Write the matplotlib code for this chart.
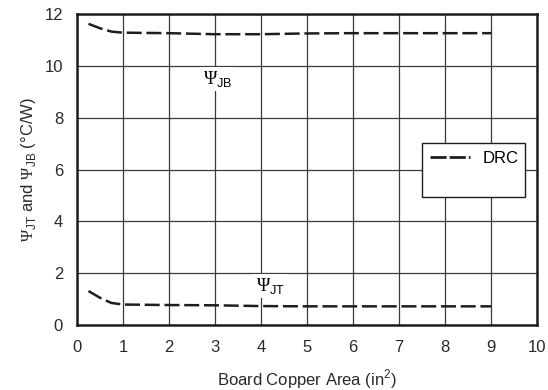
import matplotlib
matplotlib.use("Agg")
import matplotlib.pyplot as plt
from matplotlib.lines import Line2D

plt.rcParams['font.family'] = ['Liberation Sans', 'DejaVu Sans']
plt.rcParams['mathtext.fontset'] = 'custom'
plt.rcParams['mathtext.rm'] = 'Liberation Serif'
plt.rcParams['mathtext.sf'] = 'Liberation Sans'

# data
area = [0.25, 0.5, 0.75, 1, 1.5, 2, 3, 4, 5, 6, 7, 8, 9]
psi_jb = [11.62, 11.45, 11.32, 11.28, 11.27, 11.26, 11.22, 11.22, 11.25, 11.26, 11.26, 11.26, 11.26]
psi_jt = [1.31, 1.05, 0.85, 0.79, 0.78, 0.77, 0.76, 0.73, 0.72, 0.72, 0.72, 0.72, 0.72]

dark = '#1e1e1e'
dash = (0, (6, 1.9))

fig = plt.figure(figsize=(5.48, 3.9), dpi=100)
ax = fig.add_axes([77/548, 1-325/390, 460/548, 311/390])

ax.plot(area, psi_jb, color=dark, lw=1.8, ls=dash)
ax.plot(area, psi_jt, color=dark, lw=1.8, ls=dash)

ax.set_xlim(0, 10)
ax.set_ylim(0, 12)
ax.set_xticks(range(0, 11))
ax.set_yticks(range(0, 13, 2))
ax.grid(True, color='#3a3a3a', lw=0.9)
ax.set_axisbelow(True)
for s in ax.spines.values():
    s.set_linewidth(1.8)
    s.set_color(dark)
ax.tick_params(length=0, labelsize=12, colors='#2a2a2a')
ax.tick_params(axis='y', pad=10)
ax.tick_params(axis='x', pad=11)

ax.text(3.05, 9.5, r'$\Psi_{\mathsf{JB}}$', fontsize=13, ha='center', va='center',
        bbox=dict(facecolor='white', edgecolor='none', pad=1.5))
ax.text(4.2, 1.5, r'$\Psi_{\mathsf{JT}}$', fontsize=13, ha='center', va='center',
        bbox=dict(facecolor='white', edgecolor='none', pad=1.5))

ax.set_xlabel(r'Board Copper Area (in$^{\mathsf{2}}$)', fontsize=12, color='#2a2a2a')
ax.xaxis.set_label_coords(0.5, -0.135)
ax.set_ylabel(r'$\Psi_{\mathsf{JT}}$ and $\Psi_{\mathsf{JB}}$ ($\mathsf{\degree}$C/W)', fontsize=12, color='#2a2a2a')
ax.yaxis.set_label_coords(-0.085, 0.5)

handles = [Line2D([], [], color=dark, lw=2, ls=(0, (5.8, 1.1))),
           Line2D([], [], color='none')]
leg = ax.legend(handles, ['DRC', ' '], loc='upper left',
                bbox_to_anchor=(0.75, 0.408, 0.224, 0.177), mode='expand',
                frameon=True, fancybox=False, fontsize=12, handlelength=2.4,
                handletextpad=0.8, borderaxespad=0, borderpad=0.45, labelspacing=0.55)
leg.get_frame().set_edgecolor(dark)
leg.get_frame().set_linewidth(1)
leg.get_frame().set_alpha(1)

fig.savefig('out.png', dpi=100)
